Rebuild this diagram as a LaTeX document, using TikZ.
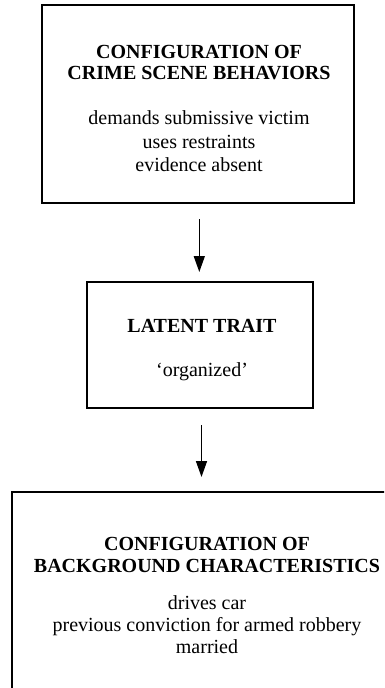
\documentclass[tikz,border=0pt]{standalone}
\usepackage{fontspec}
\setmainfont{Liberation Serif}
\usetikzlibrary{arrows.meta}
\begin{document}
\begin{tikzpicture}[x=1pt,y=-1pt,
  box/.style={draw=black, line width=1.8pt, rectangle, inner sep=0pt},
  txt/.style={align=center, inner sep=0pt, font=\fontsize{20}{23.5}\selectfont},
  arr/.style={line width=1.5pt, -{Triangle[length=16pt,width=11pt]}}]
\useasboundingbox (0,0) rectangle (384,688);
\clip (0,0) rectangle (384,688);
% boxes
\node[box, minimum width=312pt, minimum height=198pt] (b1) at (198,104) {};
\node[box, minimum width=226pt, minimum height=126pt] (b2) at (200,345) {};
\node[box, minimum width=400pt, minimum height=240pt] (b3) at (212,612) {};
% texts
\node[txt] (t1) at (199,108.5) {\textbf{CONFIGURATION OF}\\[-2.5pt]\textbf{CRIME SCENE BEHAVIORS}\\[22pt]demands submissive victim\\uses restraints\\evidence absent};
\node[txt] (t2) at (202,350.5) {\textbf{LATENT TRAIT}\\[20.5pt]‘organized’};
\node[txt, font=\fontsize{20}{22}\selectfont] (t3) at (207,595.5) {\textbf{CONFIGURATION OF}\\\textbf{BACKGROUND CHARACTERISTICS}\\[15pt]drives car\\previous conviction for armed robbery\\married};
% arrows
\coordinate (a1s) at (199.3,219);
\coordinate (a1e) at (199.3,272);
\coordinate (a2s) at (201.5,425);
\coordinate (a2e) at (201.5,477);
\draw[arr] (a1s) -- (a1e);
\draw[arr] (a2s) -- (a2e);
\end{tikzpicture}
\end{document}
